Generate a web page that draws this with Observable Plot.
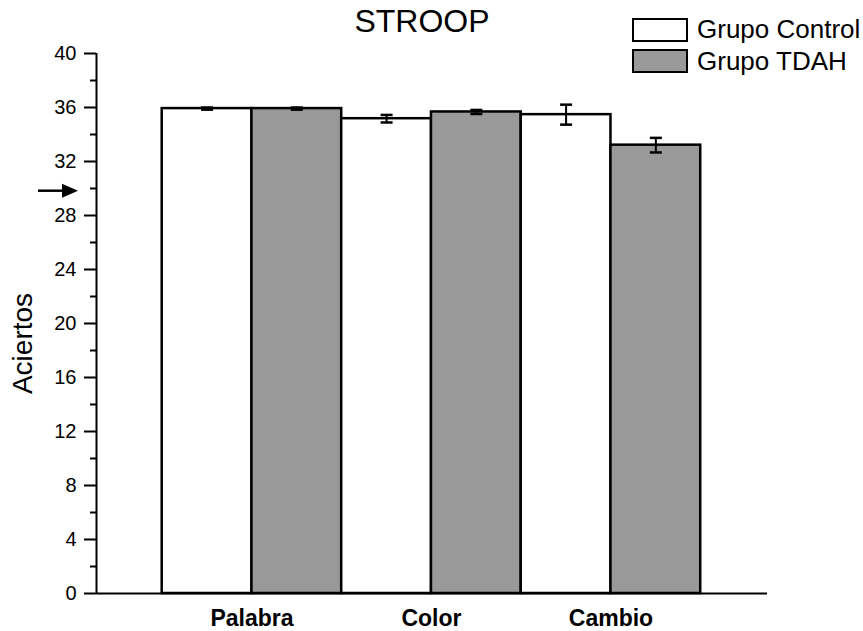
<!DOCTYPE html>
<html>
<head>
<meta charset="utf-8">
<script src="https://cdn.jsdelivr.net/npm/d3@7"></script>
<script src="https://cdn.jsdelivr.net/npm/@observablehq/plot@0.6"></script>
<style>
  html, body { margin: 0; padding: 0; background: white; }
  #wrap { position: relative; width: 863px; height: 631px; font-family: "Liberation Sans", Arial, sans-serif; color: black; }
  #title { position: absolute; left: 0; width: 844px; top: 5px; text-align: center; font-size: 32px; line-height: 32px; }
  .lg-box { position: absolute; left: 632px; width: 52px; height: 20px; border: 2.5px solid black; }
  .lg-text { position: absolute; left: 697px; font-size: 26px; line-height: 26px; white-space: nowrap; }
</style>
</head>
<body>
<div id="wrap">
  <div id="chart"></div>
  <div id="title"></div>
  <div id="legend"></div>
</div>
<script>
// ---- data ----
const categories = ["Palabra", "Color", "Cambio"];
const groups = ["Grupo Control", "Grupo TDAH"];
const groupColors = ["white", "#999999"];
const controlMeans = [35.92, 35.17, 35.47];
const controlErrors = [0.08, 0.28, 0.74];
const tdahMeans = [35.92, 35.67, 33.21];
const tdahErrors = [0.08, 0.15, 0.54];
const yTicks = [0, 4, 8, 12, 16, 20, 24, 28, 32, 36, 40];
const yMinorTicks = [2, 6, 10, 14, 18, 22, 26, 30, 34, 38];
const cutoff = 29.8;
const titleText = "STROOP";
const yLabel = "Aciertos";

// ---- layout helpers ----
const xDomain = [-0.866, 2.872];
const rows = [];
categories.forEach((c, i) => {
  [[controlMeans, controlErrors], [tdahMeans, tdahErrors]].forEach(([m, e], g) => {
    const x1 = i - 0.5 + 0.5 * g;
    rows.push({cat: c, group: groups[g], x1, x2: x1 + 0.5, xc: x1 + 0.25, mean: m[i], err: e[i]});
  });
});

const capSymbol = {
  draw(ctx) { ctx.moveTo(-6, 0); ctx.lineTo(6, 0); }
};

const arrowMark = (index, scales, values, dimensions) => {
  const y = scales.y(cutoff);
  const x0 = dimensions.marginLeft;
  const g = d3.create("svg:g");
  g.append("line").attr("x1", x0 - 58).attr("x2", x0 - 30).attr("y1", y).attr("y2", y)
    .attr("stroke", "black").attr("stroke-width", 2.5);
  g.append("path").attr("d", `M${x0 - 34},${y - 7}L${x0 - 18},${y}L${x0 - 34},${y + 7}Z`).attr("fill", "black");
  return g.node();
};

const chart = Plot.plot({
  width: 863,
  height: 631,
  marginLeft: 96,
  marginRight: 96,
  marginTop: 53,
  marginBottom: 38,
  style: {fontFamily: "'Liberation Sans', Arial, sans-serif", color: "black", background: "white"},
  x: {type: "linear", domain: xDomain, label: null},
  y: {domain: [0, 40], label: null},
  color: {domain: groups, range: groupColors},
  marks: [
    Plot.rectY(rows, {x1: "x1", x2: "x2", y: "mean", fill: "group", stroke: "black", strokeWidth: 2.5}),
    Plot.ruleX(rows, {x: "xc", y1: d => d.mean - d.err, y2: d => d.mean + d.err, stroke: "black", strokeWidth: 2}),
    Plot.dot(rows, {x: "xc", y: d => d.mean - d.err, symbol: capSymbol, stroke: "black", strokeWidth: 2.5, fill: "none"}),
    Plot.dot(rows, {x: "xc", y: d => d.mean + d.err, symbol: capSymbol, stroke: "black", strokeWidth: 2.5, fill: "none"}),
    Plot.ruleX([xDomain[0]], {y1: 0, y2: 40, stroke: "black", strokeWidth: 2}),
    Plot.ruleY([0], {stroke: "black", strokeWidth: 2}),
    Plot.axisY({ticks: yTicks, tickSize: 12, tickPadding: 8, fontSize: 20, strokeWidth: 2, label: null}),
    Plot.axisY({ticks: yMinorTicks, tickSize: 6, tickFormat: () => "", strokeWidth: 2, label: null}),
    Plot.axisX({ticks: [0, 1, 2], tickFormat: i => categories[i], tickSize: 0, tickPadding: 16, fontSize: 23, fontWeight: "bold", label: null}),
    Plot.text([yLabel], {text: d => d, frameAnchor: "left", textAnchor: "middle", rotate: -90, dx: -73, dy: 20, fontSize: 28}),
    arrowMark
  ]
});
document.getElementById("chart").appendChild(chart);

// title
document.getElementById("title").textContent = titleText;

// legend
const legend = document.getElementById("legend");
const boxTops = [18, 49];
const textTops = [16, 48];
groups.forEach((g, i) => {
  const b = document.createElement("div");
  b.className = "lg-box";
  b.style.top = boxTops[i] + "px";
  b.style.background = groupColors[i];
  legend.appendChild(b);
  const t = document.createElement("div");
  t.className = "lg-text";
  t.style.top = textTops[i] + "px";
  t.textContent = g;
  legend.appendChild(t);
});
</script>
</body>
</html>
